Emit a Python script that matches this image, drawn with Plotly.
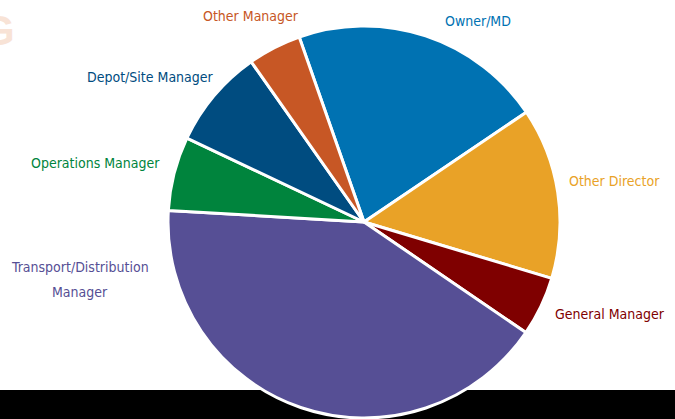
import plotly.graph_objects as go

categories = ["Owner/MD", "Other Director", "General Manager",
              "Transport/Distribution Manager", "Operations Manager",
              "Depot/Site Manager", "Other Manager"]
values = [20.9, 14.1, 4.9, 41.4, 6.1, 8.2, 4.4]
colors = ["#0072B2", "#E9A227", "#7F0000", "#564F95", "#00843D", "#004C80", "#C75725"]
label_lines = [["Owner/MD"], ["Other Director"], ["General Manager"],
               ["Transport/Distribution", "Manager"], ["Operations Manager"],
               ["Depot/Site Manager"], ["Other Manager"]]
# label centre positions in pixels (x, y from top) of the first line
label_pos = [(478, 21), (614, 181), (610, 314), (80, 267), (95, 163), (150, 77), (251, 16)]
line_gap = 25

W, H = 675, 419
cx, cy, r = 364, 222, 196

fig = go.Figure(go.Pie(
    labels=categories, values=values, sort=False, direction="clockwise",
    rotation=340.7, textinfo="none", hoverinfo="label+percent",
    marker=dict(colors=colors, line=dict(color="white", width=3)),
    domain=dict(x=[(cx - r) / W, (cx + r) / W], y=[(H - cy - r) / H, (H - cy + r) / H]),
    showlegend=False,
))

font_family = "DejaVu Sans Condensed, sans-serif"
for lines, (px, py), col in zip(label_lines, label_pos, colors):
    for i, txt in enumerate(lines):
        fig.add_annotation(x=px / W, y=1 - (py + i * line_gap) / H, xref="paper", yref="paper",
                           text=txt, showarrow=False, xanchor="center", yanchor="middle",
                           align="center",
                           font=dict(family=font_family, size=14, color=col))

# faded decorative letter at top-left (cut by the edge, as in the original)
fig.add_annotation(x=-20 / W, y=1 - 31 / H, xref="paper", yref="paper", text="<b>G</b>",
                   showarrow=False, xanchor="left", yanchor="middle",
                   font=dict(family="Liberation Sans, sans-serif", size=42, color="#F8E3D6"))

# black bar at bottom
fig.add_shape(type="rect", xref="paper", yref="paper", x0=0, x1=1, y0=0, y1=(H - 390) / H,
              fillcolor="black", line=dict(width=0), layer="below")

fig.update_layout(width=W, height=H, margin=dict(l=0, r=0, t=0, b=0),
                  paper_bgcolor="white", plot_bgcolor="white")
fig.write_html("out.html")
